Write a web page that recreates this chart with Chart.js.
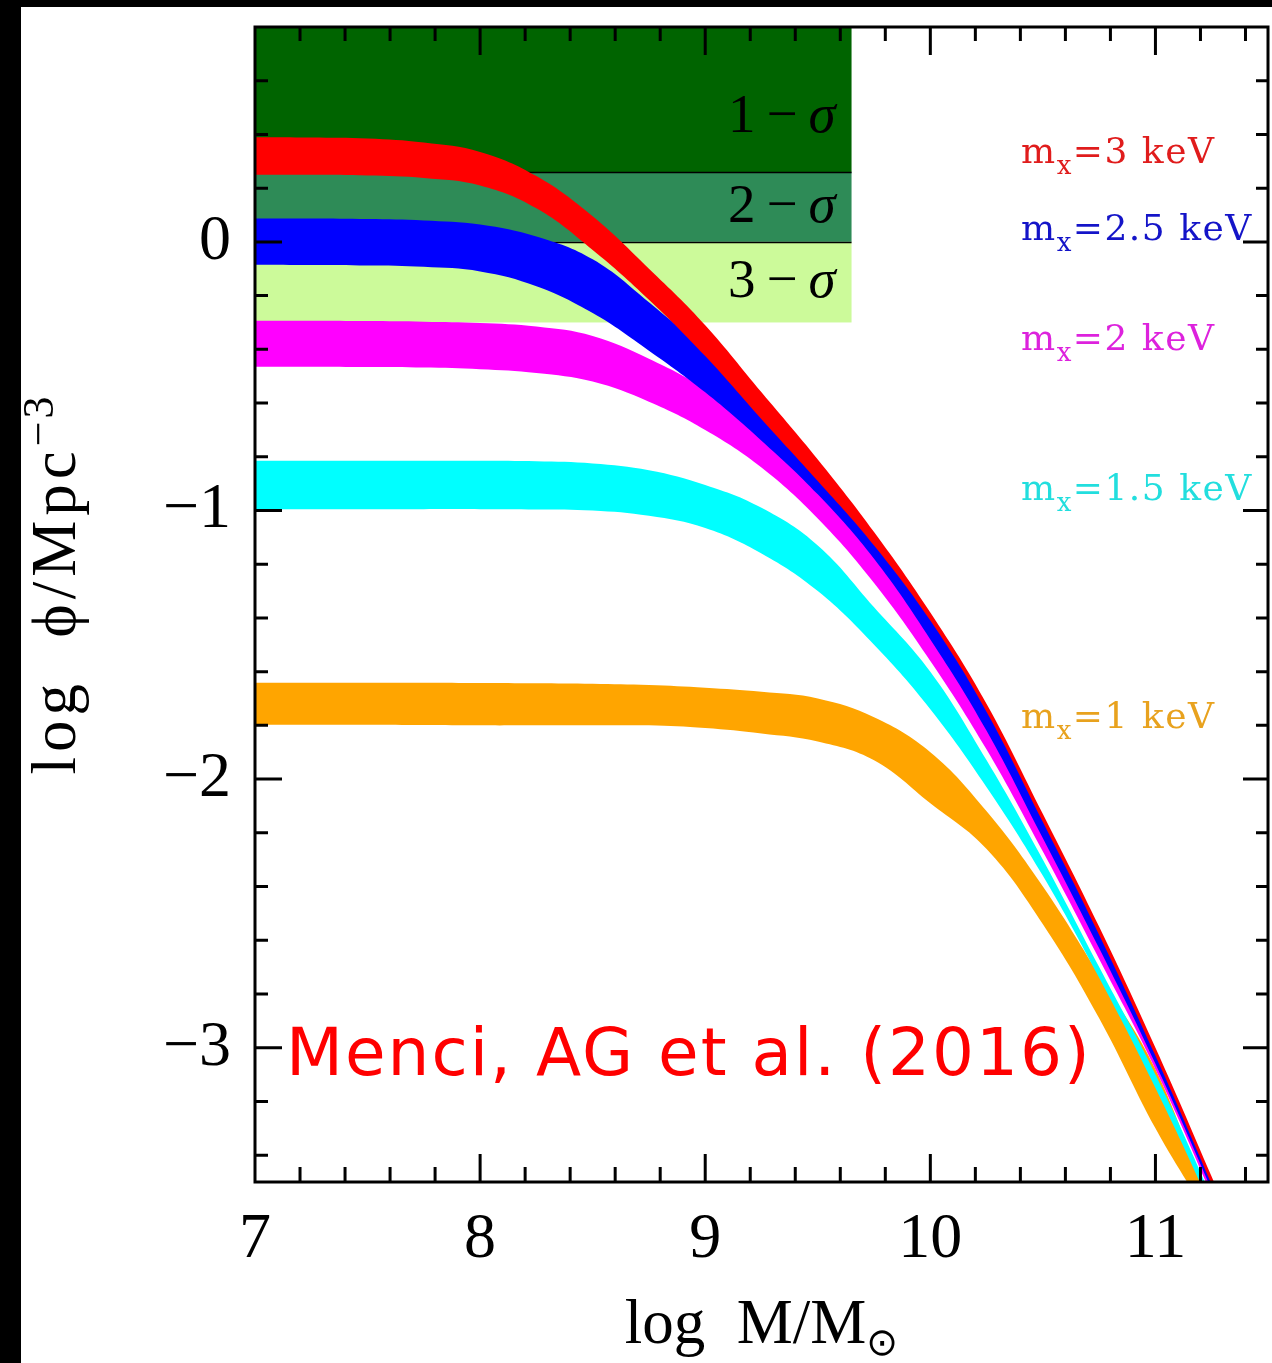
<!DOCTYPE html>
<html>
<head>
<meta charset="utf-8">
<script src="https://cdn.jsdelivr.net/npm/chart.js@4/dist/chart.umd.min.js"></script>
<style>
  html, body { margin: 0; padding: 0; background: #fff; }
  canvas { display: block; }
</style>
</head>
<body>
<canvas id="mf" width="1272" height="1363"></canvas>
<script>
// Halo mass grid, log10(M / Msun)
const logMass = [7.0, 7.25, 7.5, 7.75, 8.0, 8.25, 8.5, 8.75, 9.0, 9.25, 9.5, 9.75, 10.0, 10.25, 10.5, 10.75, 11.0, 11.25, 11.5];

// Cumulative number density, log10(phi / Mpc^-3): upper and lower edge of each band
const mx3Upper  = [0.39, 0.389, 0.385, 0.37, 0.335, 0.245, 0.095, -0.10, -0.31, -0.56, -0.81, -1.08, -1.38, -1.72, -2.13, -2.55, -3.00, -3.48, -3.98];
const mx3Lower  = [0.25, 0.25, 0.247, 0.238, 0.21, 0.125, -0.03, -0.215, -0.425, -0.66, -0.89, -1.13, -1.41, -1.75, -2.16, -2.58, -3.03, -3.51, -4.01];
const mx25Upper = [0.087, 0.087, 0.085, 0.08, 0.065, 0.02, -0.065, -0.225, -0.41, -0.63, -0.86, -1.11, -1.40, -1.74, -2.15, -2.57, -3.02, -3.50, -4.00];
const mx25Lower = [-0.085, -0.086, -0.088, -0.093, -0.11, -0.165, -0.265, -0.405, -0.56, -0.74, -0.94, -1.18, -1.48, -1.82, -2.22, -2.63, -3.06, -3.53, -4.03];
const mx2Upper  = [-0.294, -0.294, -0.295, -0.297, -0.302, -0.315, -0.35, -0.435, -0.55, -0.72, -0.92, -1.16, -1.46, -1.80, -2.20, -2.61, -3.05, -3.52, -4.02];
const mx2Lower  = [-0.465, -0.465, -0.466, -0.468, -0.474, -0.488, -0.52, -0.595, -0.70, -0.84, -1.03, -1.27, -1.56, -1.89, -2.27, -2.67, -3.08, -3.55, -4.05];
const mx15Upper = [-0.815, -0.815, -0.815, -0.815, -0.815, -0.817, -0.825, -0.85, -0.905, -0.99, -1.13, -1.36, -1.60, -1.93, -2.30, -2.70, -3.10, -3.56, -4.07];
const mx15Lower = [-0.995, -0.995, -0.995, -0.995, -0.995, -0.996, -1.00, -1.02, -1.065, -1.16, -1.30, -1.50, -1.74, -2.03, -2.36, -2.74, -3.15, -3.60, -4.10];
const mx1Upper  = [-1.641, -1.641, -1.641, -1.641, -1.642, -1.643, -1.645, -1.65, -1.66, -1.675, -1.70, -1.77, -1.90, -2.12, -2.40, -2.73, -3.08, -3.60, -4.05];
const mx1Lower  = [-1.798, -1.798, -1.798, -1.799, -1.80, -1.80, -1.80, -1.80, -1.81, -1.83, -1.86, -1.93, -2.09, -2.26, -2.54, -2.89, -3.30, -3.66, -4.10];

// WDM particle masses (keV) labelling the bands, top to bottom
const bandMasses = ['3', '2.5', '2', '1.5', '1'];

// Observational limits: confidence levels and their log phi boundaries
const sigmaNames  = ['1', '2', '3'];
const sigmaBounds = [0.8, 0.26, 0.0, -0.30];
const sigmaMaxMass = 9.65;

// Axis ticks
const xMajorTicks = [7, 8, 9, 10, 11];
const yMajorTicks = [-3, -2, -1, 0];
const minorStep = 0.2;

// ---- styling ----
const SERIF = "'Liberation Serif', 'DejaVu Serif', serif";
const SLAB  = "'DejaVu Serif', serif";
const bandColors  = ['#ff0000', '#0000ff', '#ff00ff', '#00ffff', '#ffa500'];
const labelColors = ['#e01c1c', '#1414c8', '#dd22dd', '#22dede', '#e8a21e'];
const sigmaColors = ['#006400', '#2e8b57', '#ccfa9a'];
const labelBaselines = [163, 240, 350, 500, 728];
const sigmaLabelY = [0.41, 0.075, -0.205];

const bandsData = [
  [mx3Upper, mx3Lower], [mx25Upper, mx25Lower], [mx2Upper, mx2Lower],
  [mx15Upper, mx15Lower], [mx1Upper, mx1Lower]
];

function toPoints(vals) { return logMass.map((m, i) => ({ x: m, y: vals[i] })); }

const datasets = [];
bandsData.forEach(([up, lo], i) => {
  const common = { borderWidth: 0, borderColor: 'rgba(0,0,0,0)', pointRadius: 0, tension: 0.4 };
  datasets.push(Object.assign({ data: toPoints(up), fill: '+1', backgroundColor: bandColors[i] }, common));
  datasets.push(Object.assign({ data: toPoints(lo), fill: false }, common));
});

function fmtTick(v) { return v < 0 ? '\u2212' + Math.abs(v) : String(v); }

// draw a sequence of text runs with separate fonts / vertical shifts
function drawRuns(ctx, runs, x, y, align) {
  let total = 0;
  runs.forEach(r => {
    ctx.font = r.font;
    ctx.letterSpacing = r.spacing || '0px';
    r.w = ctx.measureText(r.text).width;
    total += r.w;
  });
  let cx = align === 'right' ? x - total : align === 'center' ? x - total / 2 : x;
  ctx.textAlign = 'left';
  runs.forEach(r => {
    ctx.font = r.font;
    ctx.letterSpacing = r.spacing || '0px';
    ctx.fillText(r.text, cx, y + (r.dy || 0));
    cx += r.w;
  });
  ctx.letterSpacing = '0px';
}

const framePlugin = {
  id: 'frame',
  beforeDraw(chart) {
    const ctx = chart.ctx;
    ctx.save();
    ctx.fillStyle = '#fff';
    ctx.fillRect(0, 0, chart.width, chart.height);
    ctx.fillStyle = '#000';
    ctx.fillRect(0, 0, 21, chart.height);
    ctx.fillRect(0, 0, chart.width, 7);
    ctx.restore();
  },
  beforeDatasetsDraw(chart) {
    const { ctx, chartArea: a, scales: { x, y } } = chart;
    ctx.save();
    ctx.beginPath();
    ctx.rect(a.left, a.top, a.right - a.left, a.bottom - a.top);
    ctx.clip();
    const x0 = x.getPixelForValue(7), x1 = x.getPixelForValue(sigmaMaxMass);
    for (let i = 0; i < sigmaNames.length; i++) {
      const yt = y.getPixelForValue(sigmaBounds[i]);
      const yb = y.getPixelForValue(sigmaBounds[i + 1]);
      ctx.fillStyle = sigmaColors[i];
      ctx.fillRect(x0, yt, x1 - x0, yb - yt);
    }
    ctx.strokeStyle = '#000';
    ctx.lineWidth = 1.5;
    [sigmaBounds[1], sigmaBounds[2]].forEach(v => {
      const py = Math.round(y.getPixelForValue(v)) + 0.5;
      ctx.beginPath();
      ctx.moveTo(x0, py);
      ctx.lineTo(x1, py);
      ctx.stroke();
    });
    ctx.restore();
  },
  afterDraw(chart) {
    const { ctx, chartArea: a, scales: { x, y } } = chart;
    ctx.save();
    // confidence labels
    ctx.fillStyle = '#000';
    ctx.textBaseline = 'alphabetic';
    const sx = x.getPixelForValue(sigmaMaxMass) - 16;
    sigmaNames.forEach((n, i) => {
      drawRuns(ctx, [
        { text: n, font: '55px ' + SERIF },
        { text: '\u2009\u2212\u2009', font: '55px ' + SERIF },
        { text: '\u03c3', font: 'italic 55px ' + SERIF }
      ], sx, y.getPixelForValue(sigmaLabelY[i]), 'right');
    });
    // band labels
    bandMasses.forEach((m, i) => {
      ctx.fillStyle = labelColors[i];
      drawRuns(ctx, [
        { text: 'm', font: '36px ' + SLAB, spacing: '1.5px' },
        { text: 'x', font: '26px ' + SLAB, dy: 11, spacing: '1.5px' },
        { text: '=' + m + ' keV', font: '36px ' + SLAB, spacing: '1.5px' }
      ], 1021, labelBaselines[i], 'left');
    });
    // reference credit
    ctx.fillStyle = '#ff0000';
    drawRuns(ctx, [{ text: 'Menci, AG et al. (2016)', font: '66px "DejaVu Sans", sans-serif', spacing: '2px' }],
      286, 1075, 'left');
    // axis titles
    ctx.fillStyle = '#000';
    drawRuns(ctx, [
      { text: 'log  M/M', font: '63px ' + SERIF },
      { text: '\u2299', font: '38px "DejaVu Sans", sans-serif', dy: 12 }
    ], (a.left + a.right) / 2, 1343, 'center');
    ctx.save();
    ctx.translate(75, 584);
    ctx.rotate(-Math.PI / 2);
    drawRuns(ctx, [
      { text: 'log  \u03d5/Mpc', font: '63px ' + SERIF, spacing: '5px' },
      { text: '\u22123', font: '44px ' + SERIF, dy: -22, spacing: '3px' }
    ], 0, 0, 'center');
    ctx.restore();

    // frame and inward ticks
    ctx.strokeStyle = '#000';
    ctx.lineWidth = 3;
    ctx.strokeRect(a.left, a.top, a.right - a.left, a.bottom - a.top);
    ctx.beginPath();
    const xMin = x.min, xMax = x.max, yMin = y.min, yMax = y.max;
    for (let k = Math.ceil(xMin / minorStep); k * minorStep <= xMax + 1e-9; k++) {
      const v = +(k * minorStep).toFixed(4);
      if (v <= xMin + 1e-9) continue;
      const major = xMajorTicks.some(t => Math.abs(t - v) < 1e-6);
      const px = x.getPixelForValue(v);
      const lb = major ? 28 : 15, lt = major ? 28 : 14;
      ctx.moveTo(px, a.bottom); ctx.lineTo(px, a.bottom - lb);
      ctx.moveTo(px, a.top); ctx.lineTo(px, a.top + lt);
    }
    for (let k = Math.ceil(yMin / minorStep); k * minorStep <= yMax + 1e-9; k++) {
      const v = +(k * minorStep).toFixed(4);
      if (v <= yMin + 1e-9 || v >= yMax - 1e-9) continue;
      const major = yMajorTicks.some(t => Math.abs(t - v) < 1e-6);
      const py = y.getPixelForValue(v);
      const ll = major ? 27 : 13, lr = major ? 25 : 12;
      ctx.moveTo(a.left, py); ctx.lineTo(a.left + ll, py);
      ctx.moveTo(a.right, py); ctx.lineTo(a.right - lr, py);
    }
    ctx.stroke();
    ctx.restore();
  }
};

new Chart(document.getElementById('mf'), {
  type: 'line',
  data: { datasets },
  plugins: [framePlugin],
  options: {
    responsive: false,
    animation: false,
    devicePixelRatio: 1,
    layout: { padding: { top: 27, right: 4, left: 0, bottom: 0 } },
    plugins: { legend: { display: false }, tooltip: { enabled: false } },
    scales: {
      x: {
        type: 'linear', min: 7, max: 11.5,
        grid: { display: false, drawTicks: false },
        border: { display: false },
        afterBuildTicks: s => { s.ticks = xMajorTicks.map(v => ({ value: v })); },
        afterFit: s => { s.height = 181; s.paddingLeft = 0; s.paddingRight = 0; },
        ticks: { font: { family: SERIF, size: 64 }, color: '#000', padding: 20,
                 maxRotation: 0, autoSkip: false, callback: v => fmtTick(v) }
      },
      y: {
        type: 'linear', min: -3.5, max: 0.8,
        grid: { display: false, drawTicks: false },
        border: { display: false },
        afterBuildTicks: s => { s.ticks = yMajorTicks.map(v => ({ value: v })); },
        afterFit: s => { s.width = 255; s.paddingTop = 0; s.paddingBottom = 0; },
        ticks: { font: { family: SERIF, size: 64 }, color: '#000', padding: 24,
                 autoSkip: false, callback: v => fmtTick(v) }
      }
    }
  }
});
</script>
</body>
</html>
